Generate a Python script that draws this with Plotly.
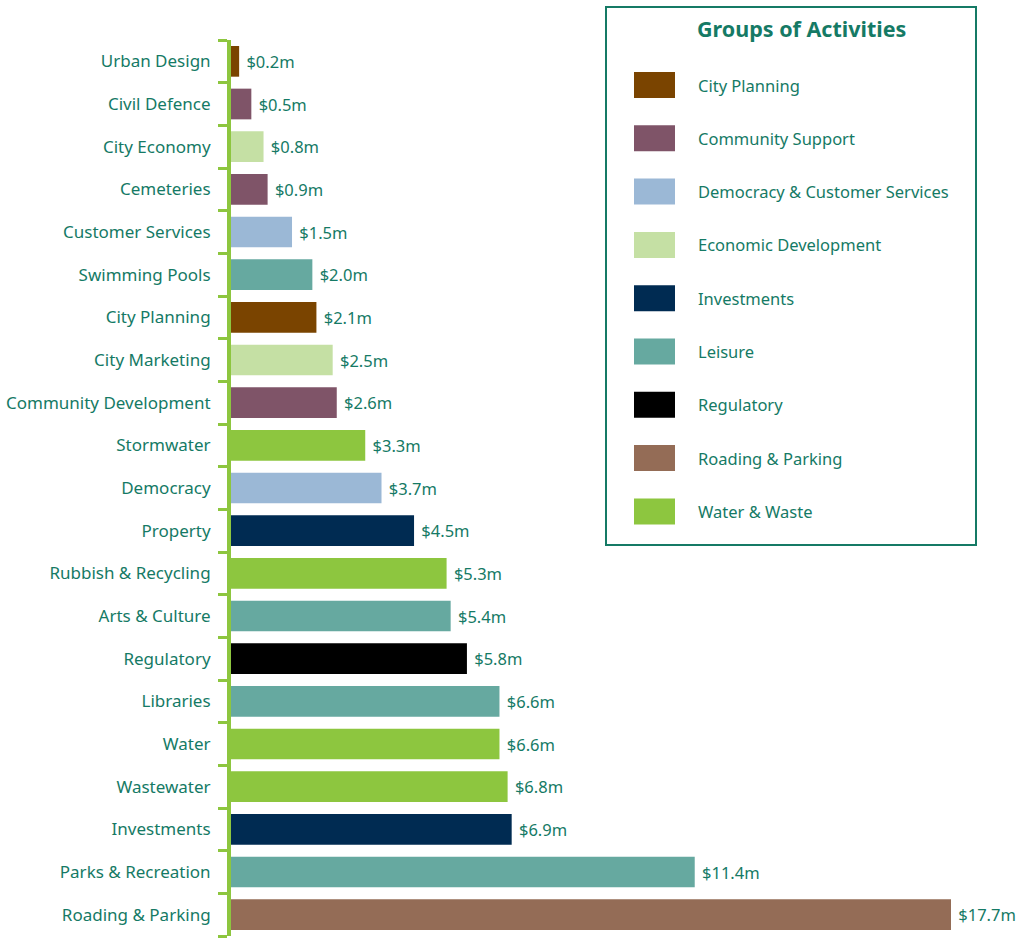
import plotly.graph_objects as go

# Activities listed bottom-to-top, with spend ($m) and activity group
activities = [
    "Roading & Parking", "Parks & Recreation", "Investments", "Wastewater", "Water",
    "Libraries", "Regulatory", "Arts & Culture", "Rubbish & Recycling", "Property",
    "Democracy", "Stormwater", "Community Development", "City Marketing", "City Planning",
    "Swimming Pools", "Customer Services", "Cemeteries", "City Economy", "Civil Defence",
    "Urban Design",
]
spend = [17.7, 11.4, 6.9, 6.8, 6.6, 6.6, 5.8, 5.4, 5.3, 4.5,
         3.7, 3.3, 2.6, 2.5, 2.1, 2.0, 1.5, 0.9, 0.8, 0.5, 0.2]
activity_group = [
    "Roading & Parking", "Leisure", "Investments", "Water & Waste", "Water & Waste",
    "Leisure", "Regulatory", "Leisure", "Water & Waste", "Investments",
    "Democracy & Customer Services", "Water & Waste", "Community Support",
    "Economic Development", "City Planning", "Leisure", "Democracy & Customer Services",
    "Community Support", "Economic Development", "Community Support", "City Planning",
]

groups = [
    "City Planning", "Community Support", "Democracy & Customer Services",
    "Economic Development", "Investments", "Leisure", "Regulatory",
    "Roading & Parking", "Water & Waste",
]
group_colors = [
    "#7a4400", "#7f5468", "#9bb8d6", "#c5e0a4", "#002b52",
    "#66a9a0", "#000000", "#946c56", "#8dc63f",
]
color_of = dict(zip(groups, group_colors))

TEAL = "#157a65"
GREEN = "#8dc63f"
FONT = "Noto Sans"

fig = go.Figure(
    go.Bar(
        x=spend,
        y=activities,
        orientation="h",
        marker=dict(color=[color_of[g] for g in activity_group], line=dict(width=0)),
        width=0.72,
        text=[f" ${v:.1f}m" for v in spend],
        textposition="outside",
        textfont=dict(family=FONT, size=16.5, color=TEAL),
        cliponaxis=False,
        showlegend=False,
        hoverinfo="skip",
    )
)

fig.update_layout(
    width=1026,
    height=940,
    margin=dict(l=231, r=75, t=40, b=4),
    paper_bgcolor="white",
    plot_bgcolor="white",
    font=dict(family=FONT, size=16, color=TEAL),
    uniformtext=dict(mode=False),
)
fig.update_xaxes(range=[0, 17.7], visible=False, fixedrange=True)
fig.update_yaxes(
    type="category",
    categoryorder="array",
    categoryarray=activities,
    range=[-0.5, len(activities) - 0.5],
    showline=True,
    linecolor=GREEN,
    linewidth=4,
    ticks="outside",
    tickson="boundaries",
    ticklen=9,
    tickwidth=3,
    tickcolor=GREEN,
    ticklabelstandoff=13,
    showgrid=False,
    zeroline=False,
    tickfont=dict(family=FONT, size=17, color=TEAL),
)

# Legend panel: positions given in page pixels, converted to paper coordinates
W, H = 1026, 940
pl, pr, pt, pb = 231, W - 75, 40, H - 4
ppx = lambda x: (x - pl) / (pr - pl)
ppy = lambda y: (pb - y) / (pb - pt)

fig.add_shape(
    type="rect", xref="paper", yref="paper",
    x0=ppx(606), x1=ppx(976), y0=ppy(545), y1=ppy(7),
    line=dict(color=TEAL, width=2), fillcolor="white", layer="above",
)
fig.add_annotation(
    xref="paper", yref="paper", x=ppx(801), y=ppy(29),
    text="<b>Groups of Activities</b>", showarrow=False,
    font=dict(family=FONT, size=21.5, color=TEAL), xanchor="center", yanchor="middle",
)
for i, (g, c) in enumerate(zip(groups, group_colors)):
    yc = 85 + i * 53.3
    fig.add_shape(
        type="rect", xref="paper", yref="paper",
        x0=ppx(634), x1=ppx(675), y0=ppy(yc + 13), y1=ppy(yc - 13),
        line=dict(width=0), fillcolor=c, layer="above",
    )
    fig.add_annotation(
        xref="paper", yref="paper", x=ppx(696), y=ppy(yc),
        text=g, showarrow=False, xanchor="left", yanchor="middle",
        font=dict(family=FONT, size=16.5, color=TEAL),
    )

fig.write_html("out.html")
